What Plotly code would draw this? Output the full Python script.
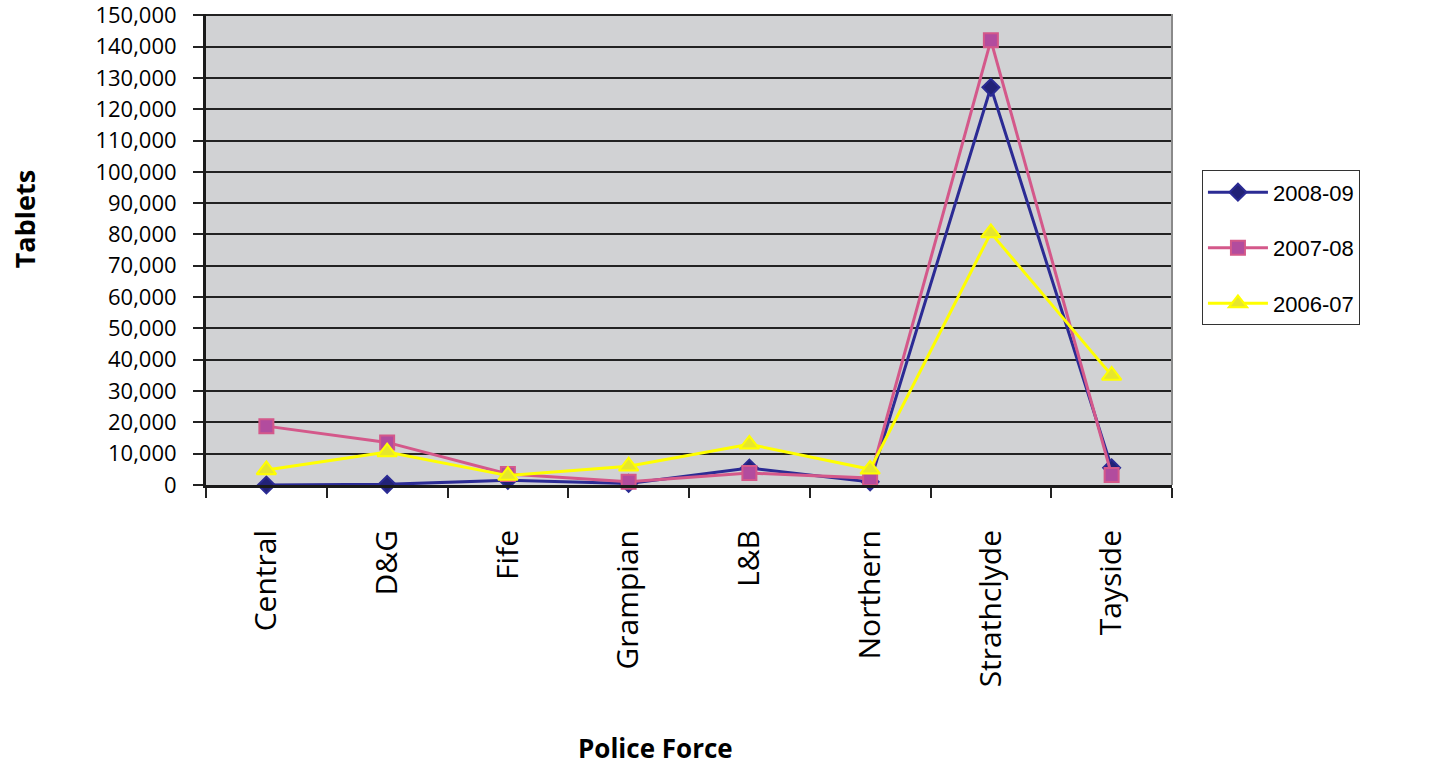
import plotly.graph_objects as go

# Police force areas on the category axis
forces = ["Central", "D&G", "Fife", "Grampian", "L&B", "Northern", "Strathclyde", "Tayside"]

# Tablets seized per force, by year
tablets_2008_09 = [0, 200, 1500, 500, 5400, 1000, 127000, 5500]
tablets_2007_08 = [18800, 13600, 3500, 1000, 3800, 2200, 142000, 3200]
tablets_2006_07 = [4800, 10500, 3000, 6000, 13000, 5000, 80500, 35000]

y_ticks = list(range(0, 150001, 10000))

series = [
    ("2008-09", tablets_2008_09, "#2b2b94", dict(symbol="diamond", size=13, color="#222277",
                                                  line=dict(color="#2b2b94", width=2))),
    ("2007-08", tablets_2007_08, "#d4588a", dict(symbol="square", size=14, color="#b24c9e",
                                                  line=dict(color="#d4588a", width=2))),
    ("2006-07", tablets_2006_07, "#ffff00", dict(symbol="triangle-up", size=17, color="#e6e62e",
                                                  line=dict(color="#ffff00", width=2))),
]

fig = go.Figure()
for name, values, colour, marker in series:
    fig.add_trace(go.Scatter(
        x=forces, y=values, name=name, mode="lines+markers",
        line=dict(color=colour, width=3), marker=marker, cliponaxis=False,
        legendgroup=name,
    ))

fig.update_layout(
    width=1445, height=770,
    margin=dict(l=206, r=273, t=14, b=285, autoexpand=False),
    paper_bgcolor="white",
    plot_bgcolor="#d1d2d4",
    font=dict(family="Open Sans", color="black"),
    showlegend=True,
    legend=dict(
        x=1.031, y=0.668, xanchor="left", yanchor="top",
        bgcolor="white", bordercolor="#333333", borderwidth=1,
        font=dict(family="Liberation Sans, Arial", size=22, color="black"),
        tracegroupgap=24, itemwidth=60,
    ),
    xaxis=dict(
        type="category", categoryorder="array", categoryarray=forces,
        range=[-0.5, len(forces) - 0.5], automargin=False,
        tickangle=-90, tickfont=dict(size=30, family="Open Sans"),
        ticks="outside", ticklen=10, tickwidth=1.5, tickcolor="#222222",
        tickson="boundaries", ticklabelstandoff=30,
        showline=True, linecolor="#1a1a1a", linewidth=3,
        showgrid=False, zeroline=False,
        mirror=False,
    ),
    yaxis=dict(
        range=[0, 150400], tickvals=y_ticks, tickformat=",d", automargin=False,
        tickfont=dict(size=22, family="Open Sans"),
        ticks="outside", ticklen=10, tickwidth=1.5, tickcolor="#222222",
        ticklabelstandoff=12, ticklabeloverflow="allow",
        showline=True, linecolor="#1a1a1a", linewidth=3,
        showgrid=True, gridcolor="#222222", gridwidth=2,
        zeroline=False,
    ),
)

# Grey frame on the right edge of the plotting area
fig.add_shape(type="line", xref="paper", yref="paper", x0=1, x1=1, y0=0, y1=1,
              line=dict(color="#8a8a8a", width=2))

# Axis titles
fig.add_annotation(text="<b>Tablets</b>", xref="paper", yref="paper",
                   x=-0.188, y=0.565, xanchor="center", yanchor="middle",
                   textangle=-90, showarrow=False,
                   font=dict(family="Open Sans", size=27, color="black"))
fig.add_annotation(text="<b>Police Force</b>", xref="paper", yref="paper",
                   x=0.465, y=-0.558, xanchor="center", yanchor="middle",
                   showarrow=False,
                   font=dict(family="Open Sans", size=26, color="black"))

fig.write_html("out.html")
